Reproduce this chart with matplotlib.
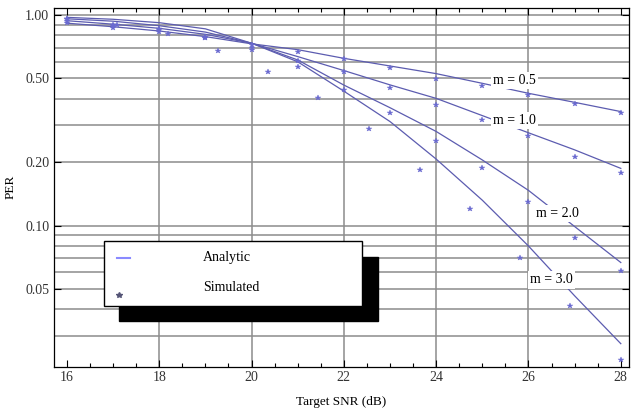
import numpy as np
import matplotlib
matplotlib.use('Agg')
import matplotlib.pyplot as plt
from matplotlib.patches import Rectangle
from matplotlib.lines import Line2D
from matplotlib.ticker import FixedLocator, NullFormatter

plt.rcParams['font.family'] = ['Liberation Serif', 'DejaVu Serif']

# Datos
snr = [16, 17, 18, 19, 20, 21, 22, 23, 24, 25, 26, 27, 28]
snr_m3_sim = [16.0, 17.09, 18.18, 19.27, 20.36, 21.45, 22.55, 23.64, 24.73, 25.82, 26.91, 28.0]

per_an = {
    '0.5': [0.915, 0.88, 0.84, 0.79, 0.73, 0.685, 0.623, 0.573, 0.527, 0.474, 0.425, 0.385, 0.348],
    '1.0': [0.94, 0.905, 0.865, 0.81, 0.735, 0.635, 0.545, 0.466, 0.402, 0.333, 0.276, 0.229, 0.187],
    '2.0': [0.96, 0.935, 0.89, 0.83, 0.735, 0.612, 0.465, 0.363, 0.28, 0.205, 0.147, 0.099, 0.0668],
    '3.0': [0.975, 0.955, 0.92, 0.86, 0.735, 0.60, 0.435, 0.312, 0.207, 0.132, 0.080, 0.0464, 0.0275],
}
per_sim_05 = [0.92, 0.87, 0.83, 0.78, 0.72, 0.67, 0.62, 0.558, 0.495, 0.462, 0.417, 0.379, 0.341]
per_sim_10 = [0.94, 0.89, 0.845, 0.785, 0.70, 0.605, 0.538, 0.452, 0.374, 0.317, 0.267, 0.211, 0.177]
per_sim_20 = [0.96, 0.90, 0.86, 0.78, 0.68, 0.568, 0.44, 0.344, 0.252, 0.187, 0.129, 0.0877, 0.061]
per_sim_30 = [0.96, 0.897, 0.81, 0.677, 0.538, 0.405, 0.288, 0.183, 0.12, 0.0705, 0.0416, 0.023]

# Etiquetas de las curvas (x, y)
etiquetas = {'0.5': (25.7, 0.49), '1.0': (25.7, 0.317), '2.0': (26.63, 0.114), '3.0': (26.49, 0.0552)}

yticks = [0.05, 0.10, 0.20, 0.50, 1.00]
grid_y = [0.03, 0.04, 0.05, 0.06, 0.07, 0.08, 0.09, 0.1,
          0.2, 0.3, 0.4, 0.5, 0.6, 0.7, 0.8, 0.9, 1.0]
grid_x = [18, 20, 22, 24, 26]

color_linea = '#5c5cb0'
color_sim = '#6a6ad0'

fig = plt.figure(figsize=(6.31, 4.11), dpi=100)
ax = fig.add_axes([0.0856, 0.108, 0.9114, 0.8725])
ax.set_yscale('log')
ax.set_xlim(15.72, 28.18)
ax.set_ylim(0.0214, 1.08)

for g in grid_y:
    ax.axhline(g, color='#8c8c8c', lw=1.1, zorder=1)
for g in grid_x:
    ax.axvline(g, color='#8c8c8c', lw=1.1, zorder=1)

for m, vals in per_an.items():
    ax.plot(snr, vals, color=color_linea, lw=0.9, zorder=3)

for sim in (per_sim_05, per_sim_10, per_sim_20):
    ax.plot(snr, sim, ls='none', marker='*', ms=3.8, mew=0.3, color=color_sim, zorder=4)
ax.plot(snr_m3_sim, per_sim_30, ls='none', marker='*', ms=3.8, mew=0.3, color=color_sim, zorder=4)

for m, (x, y) in etiquetas.items():
    ax.text(x, y, 'm = ' + m, fontsize=10, ha='center', va='center', zorder=5,
            bbox=dict(facecolor='white', edgecolor='none', pad=1.5))

# Ejes y ticks
ax.set_xticks([16, 18, 20, 22, 24, 26, 28])
ax.set_xticklabels(['16', '18', '20', '22', '24', '26', '28'])
ax.xaxis.set_minor_locator(FixedLocator(np.arange(16, 28.01, 0.5)))
ax.yaxis.set_major_locator(FixedLocator(yticks))
ax.set_yticklabels(['%.2f' % v for v in yticks])
ax.yaxis.set_minor_locator(FixedLocator([]))
ax.yaxis.set_minor_formatter(NullFormatter())
ax.tick_params(which='both', direction='in', top=True, right=True, labelsize=10,
               labelcolor='#333333', width=0.8)
ax.tick_params(which='major', length=5)
ax.tick_params(which='minor', length=3)
ax.set_xlabel('Target SNR (dB)', fontsize=9.5, labelpad=8)
ax.set_ylabel('PER', fontsize=9.5, labelpad=6)
for s in ax.spines.values():
    s.set_linewidth(0.9)

# Leyenda con sombra negra
ax.add_patch(Rectangle((0.113, 0.127), 0.45, 0.179, transform=ax.transAxes,
                       facecolor='black', edgecolor='black', zorder=6))
ax.add_patch(Rectangle((0.087, 0.169), 0.448, 0.182, transform=ax.transAxes,
                       facecolor='white', edgecolor='black', lw=1.0, zorder=7))
ax.add_line(Line2D([0.110, 0.132], [0.303, 0.303], transform=ax.transAxes,
                   color='#8a8aff', lw=1.5, zorder=8))
ax.plot([0.113], [0.200], transform=ax.transAxes, marker='*', ms=4, color='#555577', zorder=8)
ax.text(0.259, 0.303, 'Analytic', transform=ax.transAxes, fontsize=10, va='center', zorder=8)
ax.text(0.259, 0.222, 'Simulated', transform=ax.transAxes, fontsize=10, va='center', zorder=8)

fig.savefig('out.png', dpi=100)
